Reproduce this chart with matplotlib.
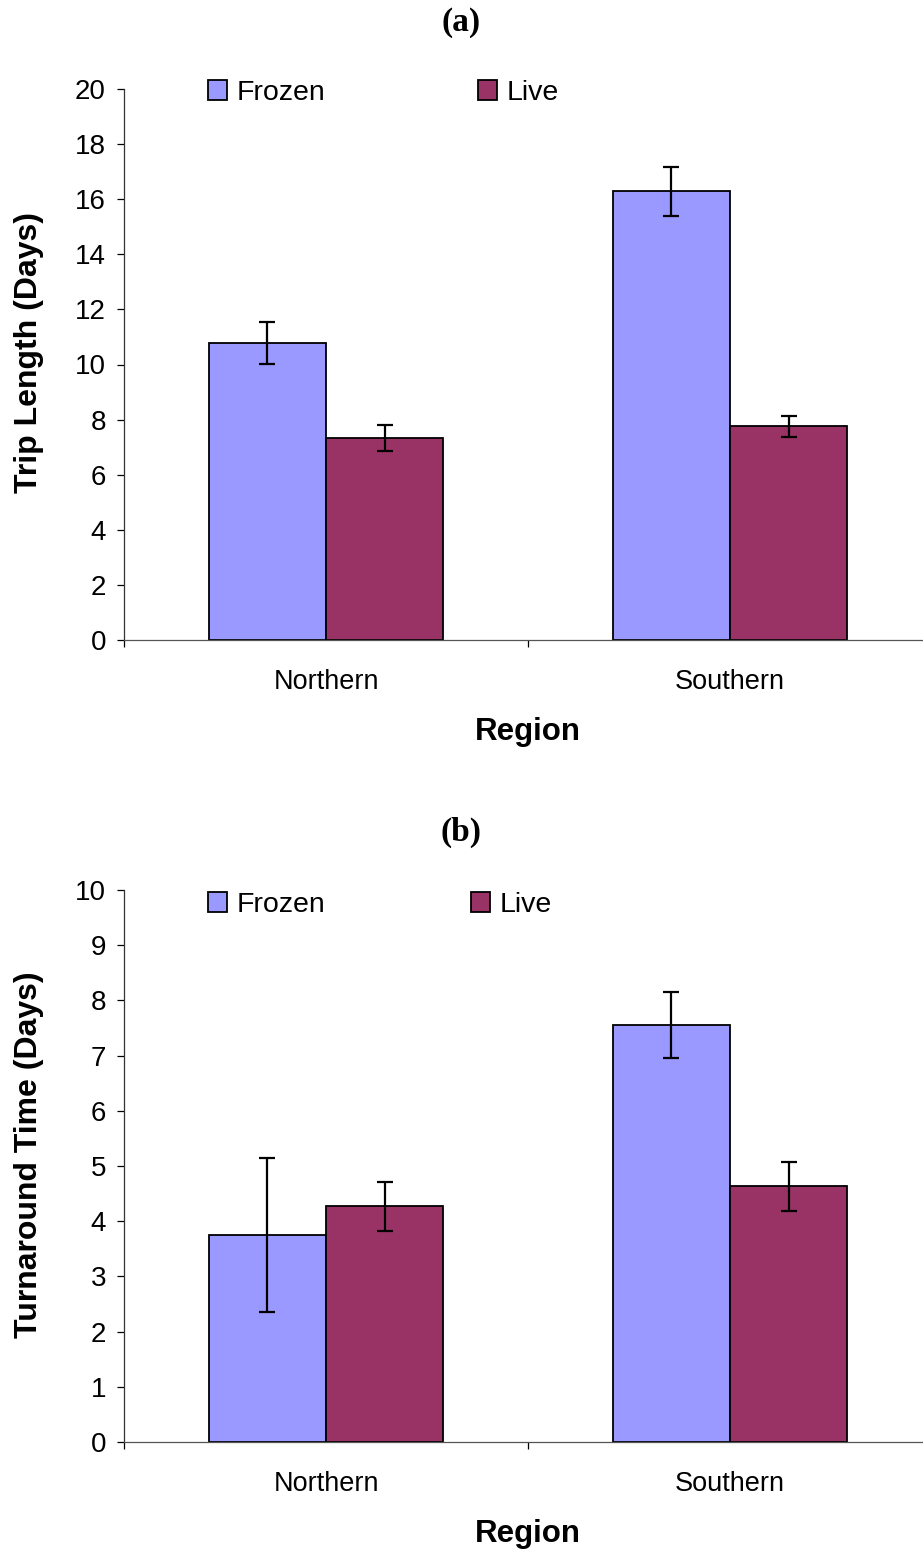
import numpy as np
import matplotlib.pyplot as plt
from matplotlib.ticker import MultipleLocator

plt.rcParams['font.family'] = ['Liberation Sans', 'DejaVu Sans']

# data
regions = ['Northern', 'Southern']
series = ['Frozen', 'Live']
colors = ['#9999FF', '#993366']

trip_frozen = [10.78, 16.28]
trip_frozen_err = [0.77, 0.88]
trip_live = [7.32, 7.75]
trip_live_err = [0.47, 0.39]

turn_frozen = [3.75, 7.55]
turn_frozen_err = [1.40, 0.60]
turn_live = [4.27, 4.63]
turn_live_err = [0.44, 0.44]

W, H = 923, 1549
fig = plt.figure(figsize=(W / 100, H / 100), dpi=100)

def panel(rect, frozen, frozen_err, live, live_err, ymax, ystep, ylabel, title, title_y, leg_y, live_x):
    ax = fig.add_axes(rect)
    x = np.arange(len(regions))
    w = 0.29
    ekw = dict(elinewidth=1.6, capthick=1.6, ecolor='black')
    b1 = ax.bar(x - w / 2, frozen, w, yerr=frozen_err, capsize=5.5, color=colors[0],
                edgecolor='black', linewidth=1.3, error_kw=ekw, label=series[0])
    b2 = ax.bar(x + w / 2, live, w, yerr=live_err, capsize=5.5, color=colors[1],
                edgecolor='black', linewidth=1.3, error_kw=ekw, label=series[1])
    ax.set_xlim(-0.5, 1.5)
    ax.set_ylim(0, ymax)
    ax.yaxis.set_major_locator(MultipleLocator(ystep))
    ax.spines['top'].set_visible(False)
    ax.spines['right'].set_visible(False)
    ax.spines['left'].set_color('#333333')
    ax.spines['bottom'].set_color('#555555')
    ax.spines['left'].set_linewidth(0.9)
    ax.spines['bottom'].set_linewidth(0.9)
    ax.tick_params(axis='y', direction='out', length=5, width=0.9, labelsize=20, pad=8)
    # ticks at the category boundaries, labels at category centres
    ax.set_xticks([-0.5, 0.5, 1.5])
    ax.set_xticklabels([])
    ax.tick_params(axis='x', which='major', direction='out', length=5, width=0.9)
    ax.set_xticks(x, minor=True)
    ax.set_xticklabels(regions, minor=True)
    ax.tick_params(axis='x', which='minor', length=0, labelsize=19.5, pad=21)
    ax.set_xlabel('Region', fontsize=22.5, fontweight='bold', labelpad=16)
    ax.set_ylabel(ylabel, fontsize=23, fontweight='bold')
    ax.yaxis.set_label_coords(-0.099, 0.521)

    fig.text(0.5, title_y, title, ha='center', va='center', fontsize=24,
             fontweight='bold', family=['Liberation Serif', 'DejaVu Serif'])

    lkw = dict(frameon=False, fontsize=20.5, handlelength=0.65, handleheight=0.65,
               handletextpad=0.35, borderpad=0, borderaxespad=0, loc='center left')
    fig.legend([b1], [series[0]], bbox_to_anchor=(208 / W, leg_y), **lkw)
    fig.legend([b2], [series[1]], bbox_to_anchor=(live_x / W, leg_y), **lkw)
    return ax

ax1 = panel([124 / W, 1 - 640 / H, (932 - 124) / W, (640 - 89) / H],
            trip_frozen, trip_frozen_err, trip_live, trip_live_err,
            20, 2, 'Trip Length (Days)', '(a)', 1 - 23 / H, 1 - 93 / H, 478)
ax2 = panel([124 / W, 1 - 1442 / H, (932 - 124) / W, (1442 - 890) / H],
            turn_frozen, turn_frozen_err, turn_live, turn_live_err,
            10, 1, 'Turnaround Time (Days)', '(b)', 1 - 832 / H, 1 - 905 / H, 471)

fig.savefig('out.png', dpi=100)
